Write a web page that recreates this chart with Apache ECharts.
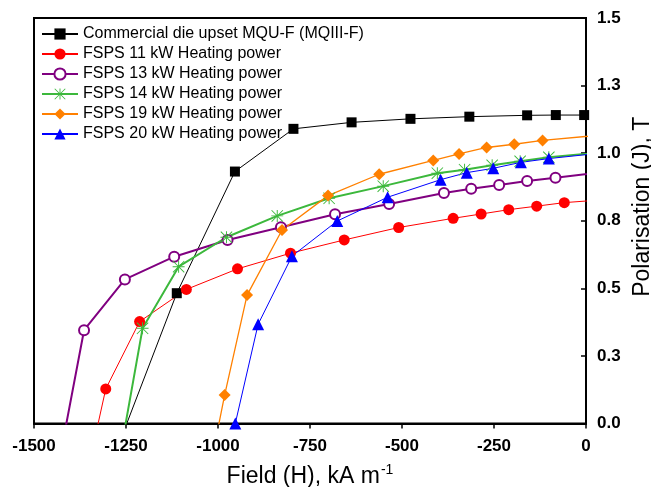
<!DOCTYPE html>
<html>
<head>
<meta charset="utf-8">
<script src="https://cdn.jsdelivr.net/npm/echarts@6/dist/echarts.min.js"></script>
<style>
  html, body { margin: 0; padding: 0; background: #fff; }
  #chart { width: 651px; height: 487px; }
</style>
</head>
<body>
<div id="chart"></div>
<script>
// Demagnetisation curves: field H (kA/m) vs polarisation J (T)
const seriesNames = [
  'Commercial die upset MQU-F (MQIII-F)',
  'FSPS 11 kW Heating power',
  'FSPS 13 kW Heating power',
  'FSPS 14 kW Heating power',
  'FSPS 19 kW Heating power',
  'FSPS 20 kW Heating power'
];

const fieldCommercial = [-1262, -1112, -954, -795, -637, -477, -317, -160, -82, -5];
const polCommercial   = [-0.05, 0.482, 0.932, 1.090, 1.114, 1.127, 1.135, 1.140, 1.141, 1.141];

const field11 = [-1342, -1305, -1213, -1086, -947, -803, -657, -509, -361, -285, -210, -134, -59, 60];
const pol11   = [-0.10, 0.128, 0.377, 0.496, 0.572, 0.630, 0.679, 0.725, 0.759, 0.775, 0.791, 0.804, 0.817, 0.829];

const field13 = [-1426, -1364, -1253, -1119, -974, -829, -682, -535, -386, -312, -236, -160, -83, 80];
const pol13   = [-0.10, 0.345, 0.533, 0.617, 0.679, 0.726, 0.774, 0.812, 0.853, 0.868, 0.882, 0.897, 0.909, 0.935];

const field14 = [-1264, -1205, -1107, -977, -839, -698, -551, -404, -330, -255, -179, -101, 80];
const pol14   = [-0.10, 0.352, 0.580, 0.689, 0.768, 0.833, 0.878, 0.926, 0.939, 0.955, 0.970, 0.985, 1.007];

const field19 = [-1012, -982, -921, -826, -701, -562, -415, -345, -270, -195, -118, 80];
const pol19   = [-0.10, 0.105, 0.475, 0.716, 0.843, 0.922, 0.973, 0.997, 1.021, 1.033, 1.047, 1.072];

const field20 = [-953, -891, -799, -676, -539, -395, -324, -252, -177, -101, 80];
const pol20   = [0.0, 0.367, 0.619, 0.749, 0.837, 0.902, 0.928, 0.944, 0.966, 0.980, 1.006];

const xTicks = { min: -1500, max: 0, interval: 250 };
const yTicks = { min: 0, max: 1.5, interval: 0.25 };

const FONT = "'Liberation Sans', Arial, sans-serif";

// eight-armed asterisk marker
const starPath = 'path://M9.2 0L10.8 0L10.8 20L9.2 20Z M0 9.2L20 9.2L20 10.8L0 10.8Z ' +
  'M0 1.1L1.1 0L20 18.9L18.9 20Z M18.9 0L20 1.1L1.1 20L0 18.9Z';

function pairs(xs, ys) { return xs.map((x, i) => [x, ys[i]]); }

const styles = [
  { color: '#000000', width: 1,   symbol: 'rect',        size: 10 },
  { color: '#ff0000', width: 1,   symbol: 'circle',      size: 11 },
  { color: '#800080', width: 2,   symbol: 'emptyCircle', size: 10 },
  { color: '#3cb83c', width: 2,   symbol: starPath,      size: 12 },
  { color: '#ff8000', width: 1.3, symbol: 'diamond',     size: 12 },
  { color: '#0000ff', width: 1,   symbol: 'triangle',    size: 12 }
];

const dataSets = [
  pairs(fieldCommercial, polCommercial),
  pairs(field11, pol11),
  pairs(field13, pol13),
  pairs(field14, pol14),
  pairs(field19, pol19),
  pairs(field20, pol20)
];

const series = dataSets.map((d, i) => ({
  name: seriesNames[i],
  type: 'line',
  data: d,
  clip: true,
  symbol: styles[i].symbol,
  symbolSize: styles[i].size,
  showAllSymbol: true,
  lineStyle: { color: styles[i].color, width: styles[i].width },
  itemStyle: styles[i].symbol === 'emptyCircle'
    ? { color: styles[i].color, borderWidth: 1.3 }
    : { color: styles[i].color, borderWidth: 0 },
  emphasis: { disabled: true },
  animation: false
}));

const chart = echarts.init(document.getElementById('chart'), null, { renderer: 'canvas' });
chart.setOption({
  backgroundColor: '#ffffff',
  animation: false,
  grid: {
    left: 34, right: 65, top: 18, bottom: 63.5,
    containLabel: false, outerBoundsMode: 'none',
    show: true, borderColor: '#000', borderWidth: 2
  },
  legend: {
    left: 36, top: 19, orient: 'vertical',
    itemWidth: 36, itemHeight: 14, itemGap: 0,
    textStyle: { fontFamily: FONT, fontSize: 16, color: '#000', lineHeight: 20, padding: [0, 0, 0, 0] },
    data: seriesNames,
    selectedMode: false
  },
  xAxis: {
    type: 'value',
    min: xTicks.min, max: xTicks.max, interval: xTicks.interval,
    name: '{a|Field (H), kA m}{s|-1}',
    nameLocation: 'middle', nameGap: 40,
    nameTextStyle: {
      rich: {
        a: { fontFamily: FONT, fontSize: 23, color: '#000' },
        s: { fontFamily: FONT, fontSize: 14, color: '#000', padding: [0, 0, 12, 1] }
      }
    },
    axisLine: { show: true, onZero: false, lineStyle: { color: '#000', width: 2 } },
    axisTick: { show: true, inside: false, length: 5, lineStyle: { color: '#000', width: 1.5 } },
    axisLabel: {
      fontFamily: FONT, fontSize: 17, fontWeight: 'bold', color: '#000', margin: 14,
      formatter: v => String(v)
    },
    splitLine: { show: false }
  },
  yAxis: {
    type: 'value', position: 'right',
    min: yTicks.min, max: yTicks.max, interval: yTicks.interval,
    name: 'Polarisation (J), T',
    nameLocation: 'middle', nameRotate: 90, nameGap: 40,
    nameTextStyle: { fontFamily: FONT, fontSize: 23, color: '#000', padding: [0, 0, 0, 28] },
    axisLine: { show: true, onZero: false, lineStyle: { color: '#000', width: 2 } },
    axisTick: { show: true, inside: true, length: 5, lineStyle: { color: '#000', width: 1.5 } },
    axisLabel: {
      fontFamily: FONT, fontSize: 17, fontWeight: 'bold', color: '#000', margin: 11,
      formatter: v => v.toFixed(1)
    },
    splitLine: { show: false }
  },
  series: series
});
</script>
</body>
</html>
